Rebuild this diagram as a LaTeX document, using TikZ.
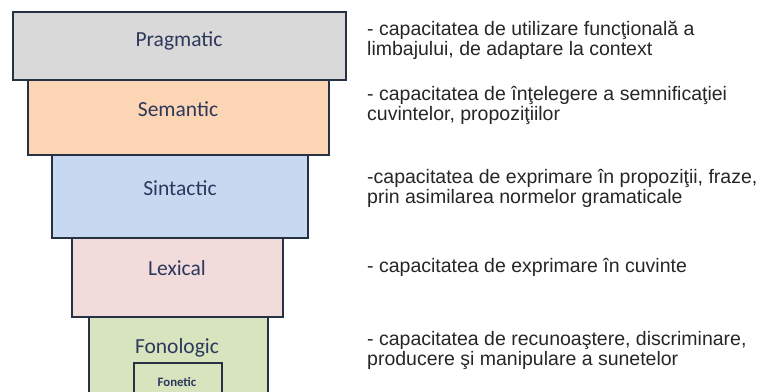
\documentclass[tikz,border=0pt]{standalone}
\usepackage{fontspec}
\setmainfont{Liberation Sans}
\newfontfamily\boxfont{Carlito}
\tikzset{
  layer-box/.style={
    rectangle,
    draw=boxline,
    line width=2.6pt,
    inner sep=0pt
  },
  layer-thin/.style={layer-box, line width=2pt},
  layer-label/.style={
    anchor=base,
    inner sep=0pt,
    text=labelnavy,
    font=\boxfont\fontsize{21.5}{24}\selectfont
  },
  small-label/.style={layer-label, font=\boxfont\bfseries\fontsize{12.8}{15}\selectfont},
  layer-desc/.style={
    anchor=base west,
    inner sep=0pt,
    align=left,
    text=desctext,
    font=\fontsize{19.5}{20}\selectfont
  }
}
\definecolor{boxline}{RGB}{38,50,68}
\definecolor{labelnavy}{RGB}{44,56,92}
\definecolor{desctext}{RGB}{38,38,38}
\definecolor{pragfill}{RGB}{217,217,217}
\definecolor{semfill}{RGB}{252,213,181}
\definecolor{sintfill}{RGB}{198,217,241}
\definecolor{lexfill}{RGB}{242,220,219}
\definecolor{fonfill}{RGB}{215,228,189}

\begin{document}
\begin{tikzpicture}[x=1pt, y=-1pt]
  \useasboundingbox (0,0) rectangle (767,391);
  \clip (0,0) rectangle (767,391);
  % the stacked layers, widest on top
  \node[layer-box, fill=pragfill, minimum width=333pt, minimum height=68pt] (prag) at (179.5,46) {};
  \node[layer-box, fill=semfill, minimum width=301pt, minimum height=75pt] (sem) at (178.5,117.5) {};
  \node[layer-box, fill=sintfill, minimum width=256pt, minimum height=83pt] (sint) at (180,196.5) {};
  \node[layer-box, fill=lexfill, minimum width=211pt, minimum height=79pt] (lex) at (177.5,277.5) {};
  \node[layer-thin, fill=fonfill, minimum width=179pt, minimum height=113pt] (fon) at (178.5,373.5) {};
  \node[layer-thin, fill=fonfill, minimum width=88pt, minimum height=57pt] (fonet) at (178,391.5) {};
  % names of the layers
  \node[layer-label] (prag-label) at (179,46.5) {Pragmatic};
  \node[layer-label] (sem-label) at (178,116.5) {Semantic};
  \node[layer-label] (sint-label) at (180,195) {Sintactic};
  \node[layer-label] (lex-label) at (177,275) {Lexical};
  \node[layer-label] (fon-label) at (177,353) {Fonologic};
  \node[small-label] (fonet-label) at (177,386.5) {Fonetic};
  % descriptions on the right (base = last line)
  \node[layer-desc] (prag-desc) at (367,55) {- capacitatea de utilizare funcţională a\\limbajului, de adaptare la context};
  \node[layer-desc] (sem-desc) at (367,120) {- capacitatea de înţelegere a semnificaţiei\\cuvintelor, propoziţiilor};
  \node[layer-desc] (sint-desc) at (367,203) {-capacitatea de exprimare în propoziţii, fraze,\\prin asimilarea normelor gramaticale};
  \node[layer-desc] (lex-desc) at (367,272) {- capacitatea de exprimare în cuvinte};
  \node[layer-desc] (fon-desc) at (367,365) {- capacitatea de recunoaştere, discriminare,\\producere şi manipulare a sunetelor};
\end{tikzpicture}
\end{document}
